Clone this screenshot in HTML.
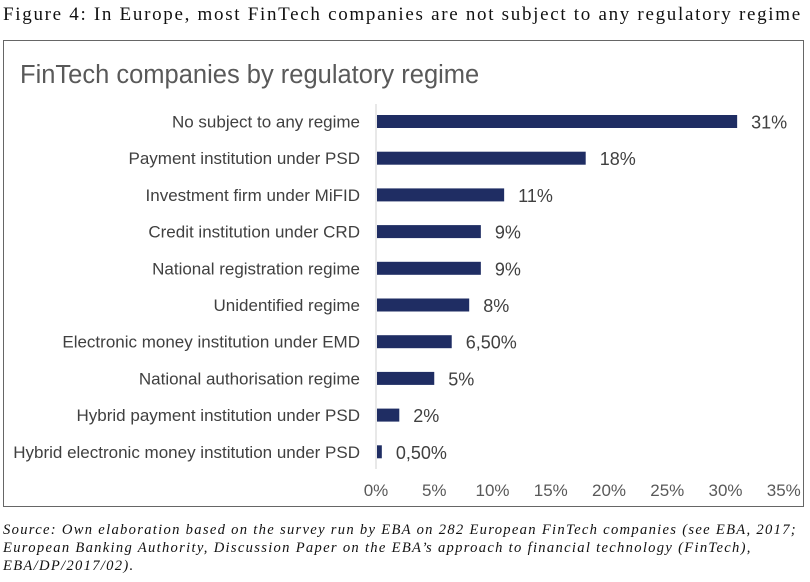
<!DOCTYPE html>
<html><head><meta charset="utf-8"><style>
body{margin:0;width:810px;height:582px;background:#fff;overflow:hidden;position:relative;font-family:"Liberation Sans",sans-serif}
#fig{position:absolute;left:3px;top:4px;font-family:"Liberation Serif",serif;font-size:19px;letter-spacing:1.7px;color:#111;white-space:nowrap}
#src{position:absolute;left:3px;top:521px;font-family:"Liberation Serif",serif;font-style:italic;font-size:14.6px;letter-spacing:1.3px;line-height:18px;color:#111;white-space:nowrap}
#box{position:absolute;left:3px;top:40px;width:801px;height:467px;border:1.5px solid #666;box-sizing:border-box}
</style></head><body>
<div id="fig">Figure 4: In Europe, most FinTech companies are not subject to any regulatory regime</div>
<div id="box"></div>
<svg id="chart" width="810" height="582" style="position:absolute;left:0;top:0">
<text x="20" y="83" font-size="25.5" fill="#595959" font-family="Liberation Sans, sans-serif">FinTech companies by regulatory regime</text>
</svg>
<div id="src">Source: Own elaboration based on the survey run by EBA on 282 European FinTech companies (see EBA, 2017;<br>European Banking Authority, Discussion Paper on the EBA’s approach to financial technology (FinTech),<br>EBA/DP/2017/02).</div>
<script>
const categories=["No subject to any regime","Payment institution under PSD","Investment firm under MiFID","Credit institution under CRD","National registration regime","Unidentified regime","Electronic money institution under EMD","National authorisation regime","Hybrid payment institution under PSD","Hybrid electronic money institution under PSD"];
const values=[31,18,11,9,9,8,6.5,5,2,0.5];
const valueLabels=["31%","18%","11%","9%","9%","8%","6,50%","5%","2%","0,50%"];
const ticks=[0,5,10,15,20,25,30,35];
const NS="http://www.w3.org/2000/svg";
const svg=document.getElementById('chart');
const x0=376,pxPer=11.65;
const xs=v=>x0+v*pxPer;
const ys=i=>121.5+i*36.7;
function mk(t,a){const e=document.createElementNS(NS,t);for(const k in a)e.setAttribute(k,a[k]);svg.appendChild(e);return e;}
const ax=mk('line',{x1:x0,x2:x0,y1:104,y2:469,stroke:'#d0d0d0','stroke-width':1});


categories.forEach((c,i)=>{
 const y=ys(i);
 const r=mk('rect',{x:x0+1,y:y-6.5,width:xs(values[i])-x0-1,height:13,fill:'#1f2d63'});
 
 
 const l=mk('text',{x:360,y:y+6,'text-anchor':'end','font-size':17,fill:'#404040'});
 l.textContent=c;
 
 
 const v=mk('text',{x:xs(values[i])+14,y:y+7,'font-size':18,fill:'#404040'});
 v.textContent=valueLabels[i];
 
 
});
ticks.forEach(t=>{
 const e=mk('text',{x:xs(t),y:496,'text-anchor':'middle','font-size':17,fill:'#595959'});
 e.textContent=t+'%';
 
 
});
</script>
</body></html>
